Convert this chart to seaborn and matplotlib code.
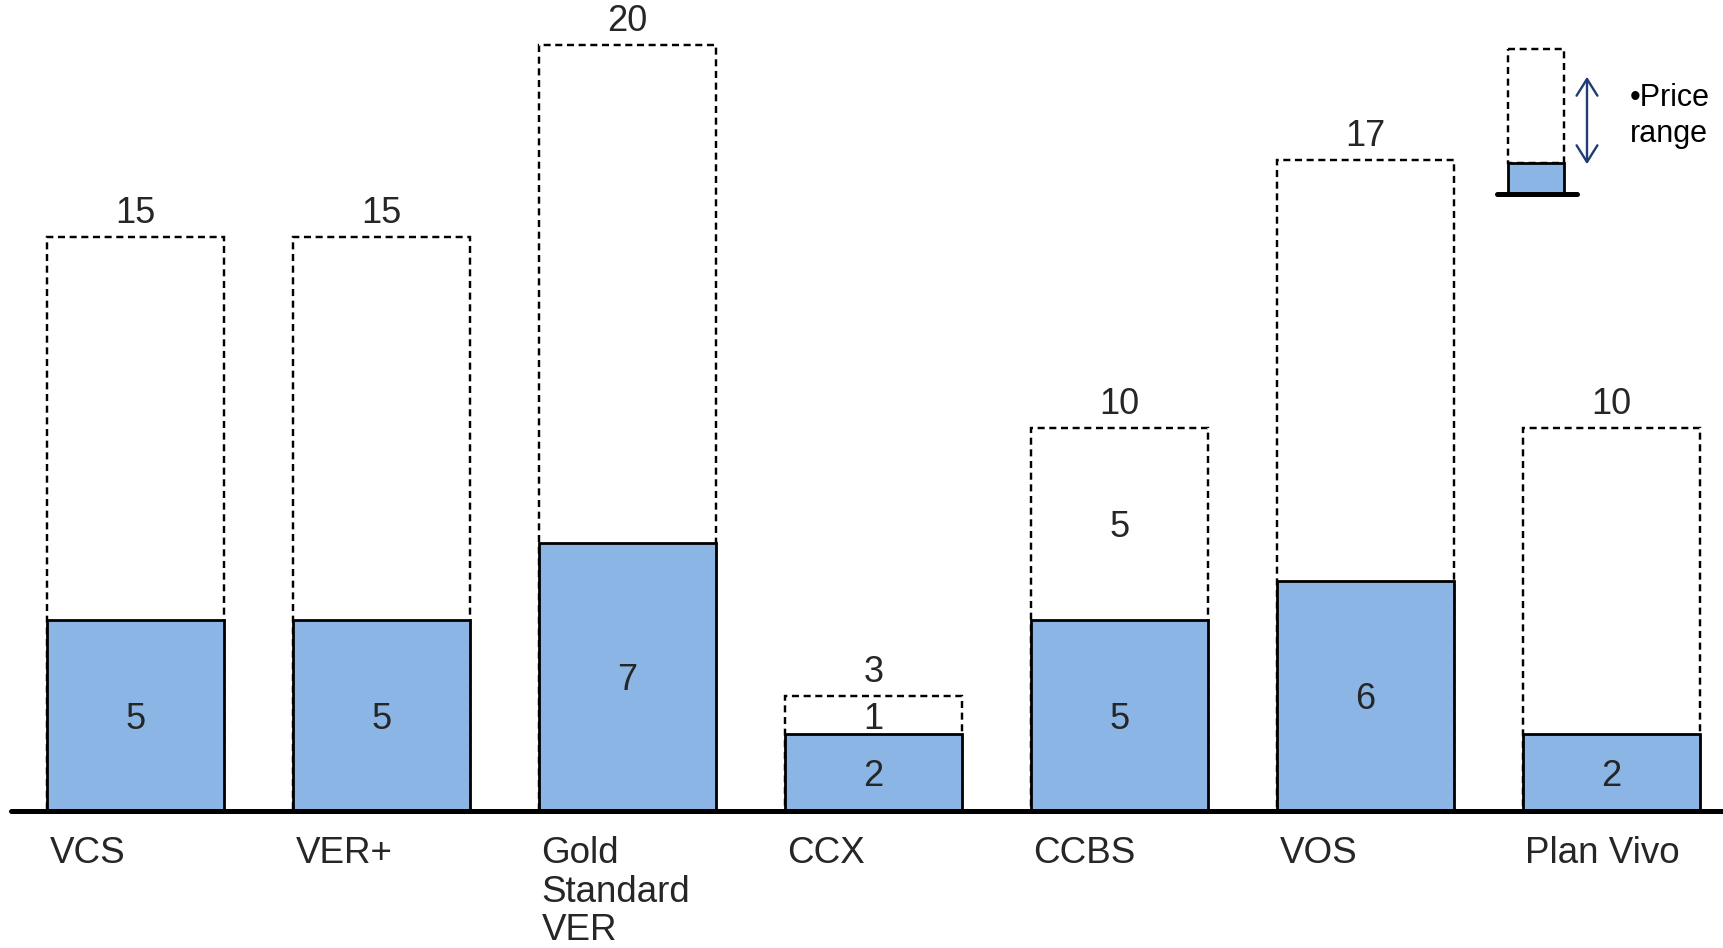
import numpy as np
import pandas as pd
import matplotlib
matplotlib.use("Agg")
import matplotlib.pyplot as plt
from matplotlib.patches import Rectangle, FancyArrowPatch
import seaborn as sns

# ---- data ----
categories = ["VCS", "VER+", "Gold\nStandard\nVER", "CCX", "CCBS", "VOS", "Plan Vivo"]
low_price = [5, 5, 7, 2, 5, 6, 2]
high_price = [15, 15, 20, 3, 10, 17, 10]
gap_labels = ["", "", "", "1", "5", "", ""]

BLUE = "#8AB5E5"
NAVY = "#1F3C73"

sns.set_theme(style="white")
plt.rcParams["font.family"] = ["Liberation Sans", "DejaVu Sans"]

W, H, DPI = 1724, 948, 100
fig = plt.figure(figsize=(W / DPI, H / DPI), dpi=DPI)
base_px = 811
ax = fig.add_axes([0, (H - base_px) / H, 1, base_px / H])

DASH = (0, (2.9, 1.9))
df = pd.DataFrame({"cat": categories, "low": low_price, "high": high_price})
bw = 0.72
sns.barplot(data=df, x="cat", y="high", color="white", edgecolor="black",
            linewidth=1.75, linestyle=DASH, width=bw, saturation=1,
            ax=ax, zorder=2)
sns.barplot(data=df, x="cat", y="low", color=BLUE, edgecolor="black",
            linewidth=2, width=bw, saturation=1, ax=ax, zorder=3)

ax.set_xlim(-0.551, 6.457)
ax.set_ylim(0, base_px / 38.3)
ax.set_xlabel("")
ax.set_ylabel("")
ax.set_yticks([])
for s in ax.spines.values():
    s.set_visible(False)

ax.axhline(0, xmin=11 / W, xmax=1, color="black", lw=3.6, clip_on=False, zorder=5,
           solid_capstyle="round")

# category labels, left-aligned at bar left edge
ax.set_xticks(np.arange(len(categories)) - bw / 2 + 0.01)
ax.set_xticklabels(categories, ha="left", fontsize=26.5, linespacing=1.13)
ax.tick_params(axis="x", length=0, pad=18)

NUM_FS = 26
for i, (lo, hi, g) in enumerate(zip(low_price, high_price, gap_labels)):
    ax.annotate(str(lo), (i, lo / 2), xytext=(0, -9.6), textcoords="offset points",
                ha="center", va="baseline", fontsize=NUM_FS, zorder=6)
    ax.annotate(str(hi), (i, hi), xytext=(0, 10), textcoords="offset points",
                ha="center", va="baseline", fontsize=NUM_FS, zorder=6)
    if g:
        ax.annotate(g, (i, (lo + hi) / 2), xytext=(0, -9.6), textcoords="offset points",
                    ha="center", va="baseline", fontsize=NUM_FS, zorder=6)

# ---- legend (drawn in a pixel-space overlay) ----
lg = fig.add_axes([0, 0, 1, 1], zorder=10)
lg.set_xlim(0, W)
lg.set_ylim(H, 0)
lg.axis("off")
lg.patch.set_alpha(0)
lg.add_patch(Rectangle((1508, 49), 56, 114, fill=False, edgecolor="black",
                       lw=1.75, linestyle=DASH))
lg.add_patch(Rectangle((1508, 163), 56, 31, facecolor=BLUE, edgecolor="black", lw=2))
lg.plot([1497, 1577], [194, 194], color="black", lw=3.6, solid_capstyle="round")
lg.add_patch(FancyArrowPatch((1587, 74), (1587, 167),
                             arrowstyle="<->,head_length=12,head_width=7.5",
                             color=NAVY, lw=1.7, mutation_scale=1))
lg.text(1630, 142, "\u2022Price\nrange", fontsize=22, ha="left", va="baseline",
        linespacing=1.25, color="black")

fig.savefig("out.png", dpi=DPI)
